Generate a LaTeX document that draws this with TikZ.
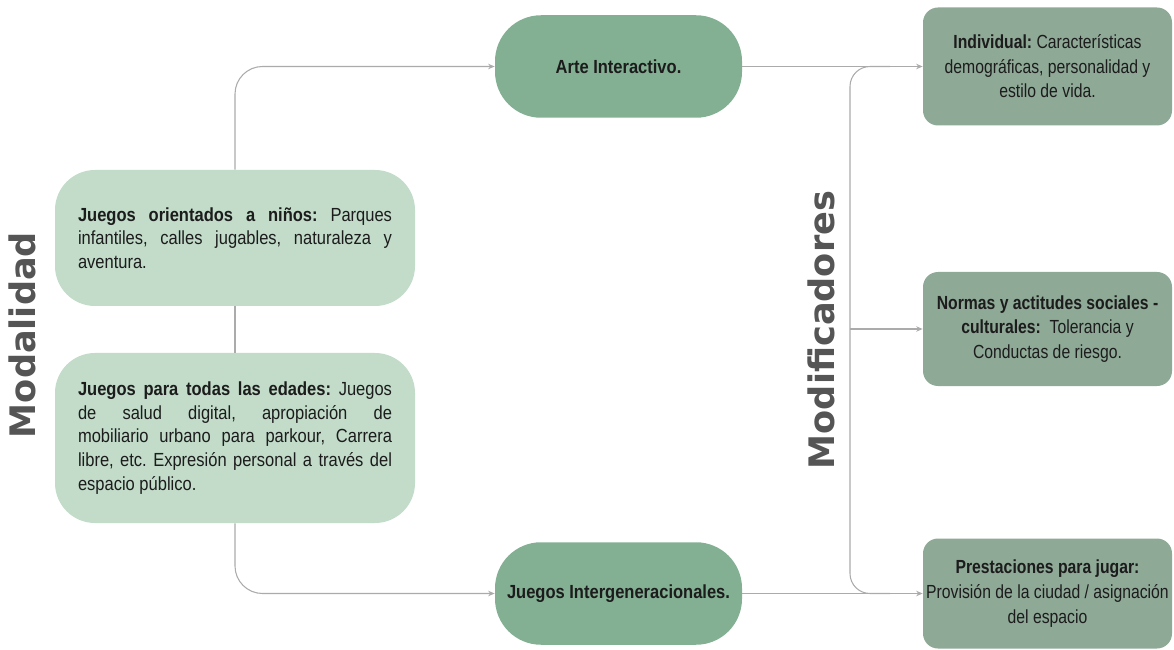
\documentclass[tikz,border=0pt]{standalone}
\usepackage{fontspec}
\setmainfont{Liberation Sans}[FakeStretch=0.87]
\newfontfamily\narrowfont{Liberation Sans}[FakeStretch=0.83]
\newfontfamily\titlefont{DejaVu Sans}
\usetikzlibrary{calc,arrows.meta}
\definecolor{mint}{HTML}{C2DCC9}
\definecolor{sage}{HTML}{83B093}
\definecolor{greysage}{HTML}{8FA997}
\definecolor{inkgrey}{HTML}{1C1C1C}
\definecolor{titlegrey}{HTML}{555555}
\definecolor{linegrey}{HTML}{ABABAB}
\frenchspacing

\begin{document}
\begin{tikzpicture}[
    line/.style={draw=linegrey, line width=0.6pt},
    link/.style={line, -{Stealth[length=1.3mm,width=1.1mm]}},
    txt/.style={text=inkgrey, font=\fontsize{10.8pt}{13.4pt}\selectfont},
    modebox/.style={txt, fill=mint, rounded corners=0.8cm, text width=6.28cm,
      align=justify, minimum width=7.2cm},
    kindbox/.style={txt, fill=sage, rounded corners=0.92cm, minimum width=4.94cm,
      minimum height=2.05cm, font=\fontsize{10.8pt}{13.4pt}\selectfont\bfseries},
    modbox/.style={txt, fill=greysage, rounded corners=0.3cm, align=center,
      inner xsep=0pt, minimum width=4.98cm,
      font=\narrowfont\fontsize{10.8pt}{14pt}\selectfont},
    title/.style={text=titlegrey, rotate=90, font=\titlefont\bfseries\fontsize{20pt}{24pt}\selectfont}
  ]
  \useasboundingbox (0,0) rectangle (23.48,-13);
  \node [modebox, minimum height=2.72cm] (ninos) at (4.70,-4.76)
    {\textbf{Juegos orientados a niños:} Parques\linebreak infantiles, calles jugables, naturaleza y\linebreak aventura.};
  \node [modebox, minimum height=3.4cm] (edades) at (4.70,-8.76)
    {\textbf{Juegos para todas las edades:} Juegos\linebreak de salud digital, apropiación de\linebreak mobiliario urbano para parkour, Carrera\linebreak libre, etc. Expresión personal a través del\linebreak espacio público.};
  \node [kindbox] (arte) at (12.37,-1.33) {Arte Interactivo.};
  \node [kindbox] (juegos) at (12.37,-11.87) {Juegos Intergeneracionales.};
  \node [modbox, minimum height=2.36cm] (individual) at (20.95,-1.33)
    {\textbf{Individual:} Características\\ demográficas, personalidad y\\ estilo de vida.};
  \node [modbox, minimum height=2.28cm] (normas) at (20.95,-6.58)
    {\textbf{Normas y actitudes sociales -}\\ \textbf{culturales:}\ \ Tolerancia y\\ Conductas de riesgo.};
  \node [modbox, minimum height=2.2cm] (prestaciones) at (20.95,-11.87)
    {\textbf{Prestaciones para jugar:}\\ Provisión de la ciudad / asignación\\ del espacio};
  \node [title] (modalidad) at (0.44,-6.70) {Modalidad};
  \node [title] (modificadores) at (16.42,-6.60) {Modificadores};
  \coordinate (bus) at (17.0,-6.58);

  \draw [link, rounded corners=0.55cm] (ninos.north) |- (arte.west);
  \draw [line] (ninos.south) -- (edades.north);
  \draw [link, rounded corners=0.55cm] (edades.south) |- (juegos.west);
  \draw [link] (arte.east) -- (individual.west);
  \draw [link] (juegos.east) -- (prestaciones.west);
  \draw [line, rounded corners=0.4cm] ($(bus |- individual.west)+(0.8,0)$) -| (bus) |- ($(bus |- prestaciones.west)+(0.8,0)$);
  \draw [link] (bus) -- (normas.west);
\end{tikzpicture}
\end{document}
